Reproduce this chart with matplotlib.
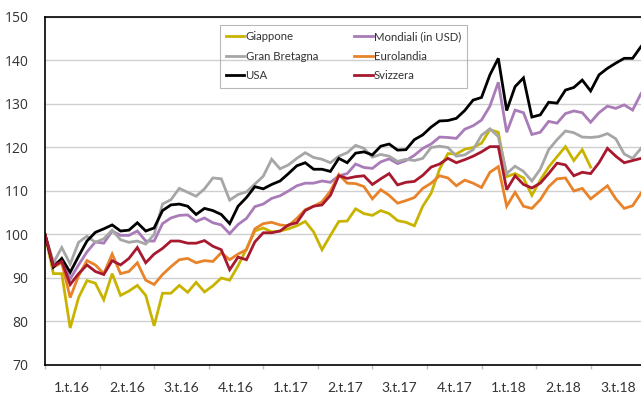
import matplotlib
matplotlib.use("Agg")
import matplotlib.pyplot as plt
import numpy as np

# fortnightly index values (base 100), start of 2016 onwards
giappone = [100, 91, 91, 78.5, 85.5, 89.4, 88.8, 85, 91, 86, 87, 88.3, 86, 79, 86.5, 86.5,
            88.3, 86.7, 89, 86.8, 88.2, 90, 89.5, 92.8, 96.7, 100.8, 101.5, 100.6, 100.8, 101.3,
            102, 103, 100.6, 96.5, 99.8, 103, 103.1, 105.9, 104.8, 104.4, 105.5, 104.8, 103.2,
            102.8, 102, 106.5, 109.5, 115, 118.6, 118.5, 119.6, 120, 121, 124.1, 123.5, 113.3,
            114, 113, 109, 112.5, 115.5, 117.9, 120.2, 117, 119.5, 115.5,
            None, None, None, None, None, None]
mondiali = [100, 93.5, 93.8, 89.8, 93, 96, 98.3, 98, 100.8, 99.8, 99.8, 100.8, 98.5, 98.5,
            102.5, 103.8, 104.4, 104.5, 103, 103.8, 102.7, 102.2, 100.2, 102.3, 103.7, 106.4,
            107, 108.3, 108.9, 110, 111.2, 111.8, 111.8, 112.3, 112, 113.5, 114, 116.2, 115.4,
            115.2, 116.7, 117.4, 116.3, 117, 118.2, 119.8, 120.8, 122.4, 122.3, 122.1, 124.2,
            125, 126.3, 129.5, 135, 123.5, 128.6, 128, 123, 123.5, 126, 125.6, 127.8, 128.4,
            128, 125.8, 128, 129.5, 129, 129.8, 128.6, 132.4]
gran_bretagna = [100, 93.5, 97, 93.2, 98.2, 99.6, 98.2, 99, 101, 98.8, 98.2, 98.5, 97.8, 100,
                 107, 108, 110.6, 109.7, 108.8, 110.5, 113, 112.8, 107.9, 109.2, 109.8, 111.6,
                 113.4, 117.3, 115.1, 116, 117.5, 118.8, 117.7, 117.3, 116.5, 118, 118.8, 120.5,
                 119.8, 117.8, 118.4, 118, 116.8, 117.3, 117, 117.5, 120, 120.3, 120, 118, 118.3,
                 119.5, 122.8, 124.3, 122.5, 114, 115.7, 114.5, 112.3, 115, 119.5, 121.8, 123.8,
                 123.4, 122.4, 122.3, 122.5, 123.2, 122, 118.5, 117.5, 119.8]
eurolandia = [100, 92.5, 93.5, 85.5, 90.5, 94, 93, 91, 95.5, 91, 91.5, 93.5, 89.5, 88.5, 90.8,
              92.6, 94.2, 94.5, 93.5, 94, 93.8, 95.8, 94.2, 95.5, 96.5, 101.3, 102.5, 102.8,
              102.2, 102, 103.7, 105.7, 106.5, 107.5, 110, 113.8, 111.8, 111.7, 111, 108.2,
              110.3, 109, 107.2, 107.8, 108.5, 110.6, 111.8, 113.5, 113, 111.2, 112.5, 111.8,
              110.8, 114.3, 115.6, 106.5, 109.7, 106.5, 106, 108, 111, 112.8, 113, 110, 110.6,
              108.2, 109.7, 111.2, 108.2, 106, 106.6, 109.5]
usa = [100, 92.5, 94.5, 91.3, 95, 98.5, 100.5, 101.3, 102.2, 100.8, 101, 102.7, 100.8, 101.5,
       105.5, 106.8, 107, 106.5, 104.6, 106, 105.5, 104.6, 102.5, 106.5, 108.5, 111, 110.5,
       111.5, 112.3, 114, 115.8, 116.5, 115, 115, 114.5, 117.5, 116.5, 118.7, 119, 118.3,
       120.3, 120.8, 119.4, 119.5, 121.8, 122.9, 124.7, 126.1, 126.2, 126.7, 128.5, 130.9,
       131.5, 136.7, 140.5, 128.5, 134, 136, 127, 127.5, 130.4, 130.2, 133.2, 133.8, 135.5,
       133, 136.7, 138.2, 139.4, 140.5, 140.5, 143.2]
svizzera = [100, 92.8, 93.8, 88.5, 91, 93, 91.5, 90.8, 94, 93, 94.5, 97, 93.5, 95.5, 96.8,
            98.5, 98.5, 98, 98, 98.6, 97.3, 96.5, 91.9, 94.8, 94.2, 98.3, 100.4, 100.4, 100.8,
            102.2, 102.7, 105.5, 106.5, 106.8, 109, 113.5, 112.9, 113.3, 113.5, 111.5, 112.8,
            114, 111.4, 112, 112.2, 113.6, 115.5, 116.2, 117.5, 116.5, 117.2, 118, 119, 120.2,
            120.2, 110.3, 113.5, 111.5, 110.7, 111.8, 114, 116.4, 116, 113.5, 114.3, 114, 116.5,
            119.8, 118, 116.5, 117, 117.5]

quarter_labels = ["1.t.16", "2.t.16", "3.t.16", "4.t.16", "1.t.17", "2.t.17",
                  "3.t.17", "4.t.17", "1.t.18", "2.t.18", "3.t.18"]

series = [
    ("Giappone", giappone, "#c8b400"),
    ("Mondiali (in USD)", mondiali, "#a97bb8"),
    ("Gran Bretagna", gran_bretagna, "#a6a6a6"),
    ("Eurolandia", eurolandia, "#e8832a"),
    ("USA", usa, "#000000"),
    ("Svizzera", svizzera, "#a6192e"),
]

# two points per 13 weeks -> position in quarters
n = len(usa)
x = np.arange(n) * 2 / 13

fig = plt.figure(figsize=(6.41, 4.03), dpi=100)
ax = fig.add_axes([45 / 641, 38 / 403, 596 / 641, 348 / 403])

lines = {}
for name, vals, col in series:
    y = np.array([np.nan if v is None else v for v in vals], dtype=float)
    lines[name], = ax.plot(x, y, color=col, lw=2.0, label=name, solid_joinstyle="miter")

ax.set_xlim(0, x[-1])
ax.set_ylim(70, 150)
ax.set_yticks(np.arange(70, 151, 10))
ax.yaxis.grid(True, color="#d0d0d0", lw=1.0)
ax.set_axisbelow(True)

ax.set_xticks(np.arange(len(quarter_labels)))
ax.set_xticklabels([])
ax.set_xticks(np.arange(len(quarter_labels)) + 0.5, minor=True)
ax.set_xticklabels(quarter_labels, minor=True, family="Lato", fontsize=10, color="#333333")
ax.tick_params(axis="x", which="major", length=3, color="#bfbfbf", width=1)
ax.tick_params(axis="x", which="minor", length=0, pad=12)
ax.tick_params(axis="y", length=0, pad=12, labelsize=10, labelcolor="#333333")
for lab in ax.get_yticklabels():
    lab.set_family("Open Sans")

for side in ["left", "bottom", "top"]:
    ax.spines[side].set_color("black")
    ax.spines[side].set_linewidth(1.2)
ax.spines["right"].set_visible(False)

order = ["Giappone", "Gran Bretagna", "USA", "Mondiali (in USD)", "Eurolandia", "Svizzera"]
leg = ax.legend([lines[k] for k in order], order, ncol=2, loc="upper left",
                bbox_to_anchor=(220 / 641, 1 - 25 / 403), bbox_transform=fig.transFigure,
                borderaxespad=0, frameon=True, fancybox=False, handlelength=1.6,
                handletextpad=0.1, columnspacing=3.2, labelspacing=0.75,
                prop={"family": "Lato", "size": 8.2}, borderpad=0.55)
leg.get_frame().set_facecolor("none")
leg.get_frame().set_edgecolor("#a6a6a6")
leg.get_frame().set_linewidth(0.8)
for t in leg.get_texts():
    t.set_color("#333333")

fig.savefig("out.png", dpi=100)
